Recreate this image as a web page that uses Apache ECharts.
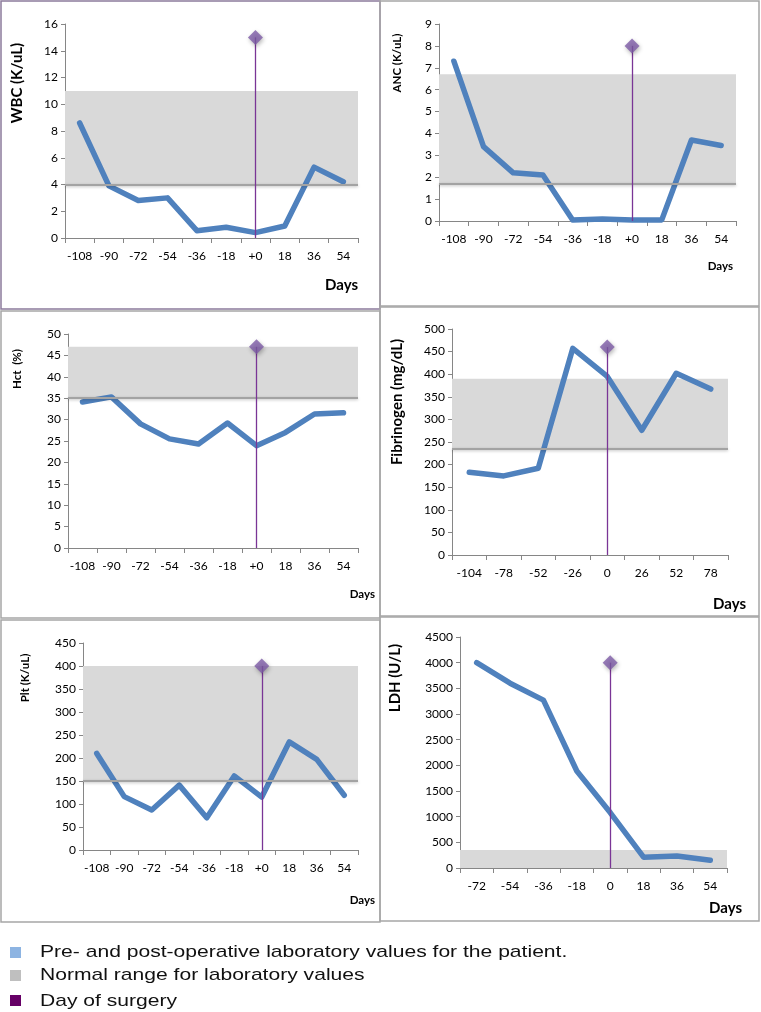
<!DOCTYPE html>
<html><head><meta charset="utf-8">
<script src="https://cdn.jsdelivr.net/npm/echarts@6/dist/echarts.min.js"></script>
<style>html,body{margin:0;padding:0;background:#fff}#c{width:761px;height:1012px}</style>
</head><body><div id="c"></div>
<script>
// ---- data ----
const daysA = ['-108','-90','-72','-54','-36','-18','+0','18','36','54'];
const daysFib = ['-104','-78','-52','-26','0','26','52','78'];
const daysLdh = ['-72','-54','-36','-18','0','18','36','54'];

const wbc = [8.6, 3.9, 2.8, 3.0, 0.55, 0.8, 0.4, 0.9, 5.3, 4.2];
const anc = [7.3, 3.4, 2.2, 2.1, 0.05, 0.09, 0.05, 0.05, 3.7, 3.45];
const hct = [34.1, 35.3, 29.0, 25.5, 24.3, 29.2, 23.9, 27.0, 31.3, 31.6];
const fib = [183, 175, 192, 457, 395, 276, 402, 367];
const plt = [210, 116, 87, 141, 70, 161, 115, 235, 197, 119];
const ldh = [4000, 3600, 3270, 1890, 1080, 210, 235, 150];

const wbcRange = [4, 11];
const ancRange = [1.7, 6.7];
const hctRange = [35, 47];
const fibRange = [235, 390];
const pltRange = [150, 400];
const ldhRange = [0, 350];

const surgeryDay = ['+0', '+0', '+0', '0', '+0', '0'];
const surgeryMarker = [15, 8, 47, 460, 400, 4000];

const yMax = [16, 9, 50, 500, 450, 4500];
const yStep = [2, 1, 5, 50, 50, 500];

const yTitles = ['WBC (K/uL)', 'ANC (K/uL)', 'Hct  (%)', 'Fibrinogen (mg/dL)', 'Plt (K/uL)', 'LDH (U/L)'];
const xTitle = 'Days';
const legendLabels = ['Pre- and post-operative laboratory values for the patient.', 'Normal range for laboratory values', 'Day of surgery'];

// ---- assembly ----
const cats = [daysA, daysA, daysA, daysFib, daysA, daysLdh];
const values = [wbc, anc, hct, fib, plt, ldh];
const ranges = [wbcRange, ancRange, hctRange, fibRange, pltRange, ldhRange];

// layout (pixels)
const gridBoxes = [
  {left: 65, top: 24, width: 293, height: 214},
  {left: 439, top: 24, width: 297, height: 197},
  {left: 68, top: 334, width: 290, height: 214},
  {left: 452, top: 329, width: 276, height: 226},
  {left: 83, top: 643, width: 275, height: 207},
  {left: 460, top: 637, width: 267, height: 231}
];
const yTitlePos = [[17, 83, 15], [397, 63, 11.5], [17, 369, 11.5], [397, 402, 15], [25, 678, 11.5], [395, 678, 15]];
const daysPos = [[358, 285, 15], [733, 266, 11.5], [375, 594, 11.5], [746, 604, 15], [375, 900, 11.5], [742, 908, 15]];
const borders = [
  [1, 1, 379, 308, '#8c7b9c'], [380, 1, 379, 305, '#a6a6a6'],
  [1, 311, 379, 307, '#a6a6a6'], [380, 307, 379, 309, '#a6a6a6'],
  [1, 620, 379, 302, '#a6a6a6'], [380, 617, 379, 304, '#a6a6a6']
];
const legendColors = ['#8db4e2', '#bfbfbf', '#660066'];
const legendY = [[947, 952.5], [970, 975.5], [995, 1001]];

const FONT = 'Lato, "Open Sans", sans-serif';
const AXIS_COLOR = '#868686';

const grid = [], xAxis = [], yAxis = [], series = [], graphic = [];

for (let i = 0; i < 6; i++) {
  grid.push(Object.assign({outerBoundsMode: 'none', containLabel: false}, gridBoxes[i]));
  xAxis.push({
    type: 'category', gridIndex: i, data: cats[i], boundaryGap: true,
    axisLine: {lineStyle: {color: AXIS_COLOR, width: 1}},
    axisTick: {show: true, length: 5, lineStyle: {color: AXIS_COLOR}},
    axisLabel: {color: '#000', fontSize: 12, fontFamily: FONT, margin: 12, interval: 0},
    splitLine: {show: false}
  });
  yAxis.push({
    type: 'value', gridIndex: i, min: 0, max: yMax[i], interval: yStep[i],
    axisLine: {show: true, lineStyle: {color: AXIS_COLOR, width: 1}},
    axisTick: {show: true, length: 4, lineStyle: {color: AXIS_COLOR}},
    axisLabel: {color: '#000', fontSize: 12, fontFamily: FONT, margin: 7, formatter: v => String(v)},
    splitLine: {show: false}
  });

  const band = ranges[i];
  const bandLines = band[0] > 0 ? [{yAxis: band[0]}] : [];
  series.push({
    name: legendLabels[1], type: 'line', xAxisIndex: i, yAxisIndex: i, data: [],
    z: 1, silent: true,
    markArea: {
      silent: true,
      itemStyle: {color: '#d9d9d9'},
      data: [[{yAxis: band[0]}, {yAxis: band[1]}]]
    },
    markLine: {
      silent: true, symbol: 'none', label: {show: false},
      lineStyle: {color: '#a3a3a3', width: 2, type: 'solid', shadowBlur: 3, shadowColor: 'rgba(0,0,0,0.25)', shadowOffsetY: 1},
      data: bandLines
    }
  });
  series.push({
    name: legendLabels[0], type: 'line', xAxisIndex: i, yAxisIndex: i,
    data: values[i], symbol: 'none', z: 3, silent: true,
    lineStyle: {color: '#4f81bd', width: 5.5, cap: 'round', join: 'round'}
  });
  series.push({
    name: legendLabels[2], type: 'scatter', xAxisIndex: i, yAxisIndex: i,
    data: [[surgeryDay[i], surgeryMarker[i]]], symbol: 'diamond', symbolSize: 15, z: 5, silent: true,
    itemStyle: {color: '#7d5ba6', shadowBlur: 4, shadowColor: 'rgba(0,0,0,0.35)', shadowOffsetX: 1, shadowOffsetY: 2},
    markLine: {
      silent: true, symbol: 'none', label: {show: false},
      lineStyle: {color: '#7a3596', width: 1.3, type: 'solid'},
      data: [[{coord: [surgeryDay[i], 0]}, {coord: [surgeryDay[i], surgeryMarker[i]]}]]
    }
  });

  // panel frame
  const b = borders[i];
  graphic.push({type: 'rect', silent: true, shape: {x: b[0], y: b[1], width: b[2], height: b[3]},
    style: {fill: 'none', stroke: b[4], lineWidth: 1.5}, z: 0});
  // y title
  const yt = yTitlePos[i];
  graphic.push({type: 'text', x: yt[0], y: yt[1], rotation: Math.PI / 2, silent: true,
    style: {text: yTitles[i], fill: '#000', fontSize: yt[2], fontWeight: 'bold', fontFamily: FONT, align: 'center', verticalAlign: 'middle'}});
  // x title
  const dp = daysPos[i];
  graphic.push({type: 'text', x: dp[0], y: dp[1], silent: true,
    style: {text: xTitle, fill: '#000', fontSize: dp[2], fontWeight: 'bold', fontFamily: FONT, align: 'right', verticalAlign: 'middle'}});
}

// caption legend
for (let k = 0; k < 3; k++) {
  graphic.push({type: 'rect', silent: true, shape: {x: 10, y: legendY[k][0], width: 11, height: 11},
    style: {fill: legendColors[k]}});
  graphic.push({type: 'text', x: 40, y: legendY[k][1], scaleX: 1.24, silent: true,
    style: {text: legendLabels[k], fill: '#111', fontSize: 17, fontFamily: '"Liberation Sans", Arial, sans-serif', align: 'left', verticalAlign: 'middle'}});
}

const chart = echarts.init(document.getElementById('c'), null, {renderer: 'canvas'});
chart.setOption({
  animation: false,
  backgroundColor: '#fff',
  textStyle: {fontFamily: FONT},
  grid, xAxis, yAxis, series, graphic
});
</script>
</body></html>
